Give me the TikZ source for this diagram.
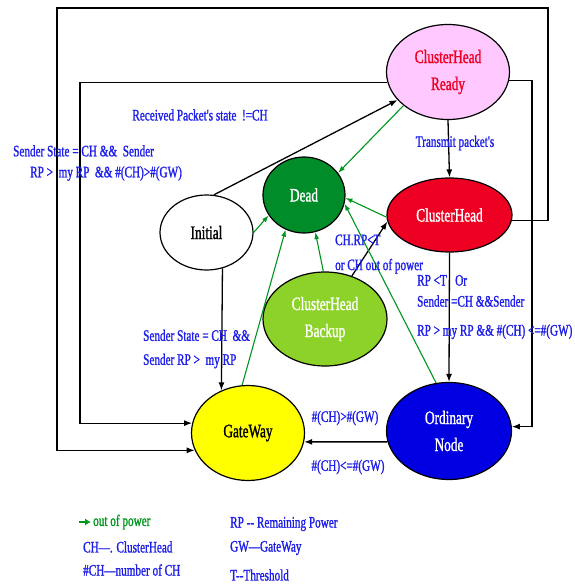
\documentclass[tikz,border=0pt]{standalone}
\usepackage{fontspec}
\setmainfont{Liberation Serif}[FakeStretch=0.7]
\newfontfamily\heavyserif{Liberation Serif}[FakeStretch=0.7,FakeBold=1.2]
\usetikzlibrary{arrows.meta,shapes.geometric}

\definecolor{chready}{RGB}{255,200,255}
\definecolor{chred}{RGB}{238,0,34}
\definecolor{deadgreen}{RGB}{0,140,40}
\definecolor{backupgreen}{RGB}{140,210,40}
\definecolor{gwyellow}{RGB}{255,255,0}
\definecolor{onblue}{RGB}{0,0,225}
\definecolor{lblblue}{RGB}{30,30,235}
\definecolor{powgreen}{RGB}{0,150,30}

\begin{document}
\begin{tikzpicture}[x=1pt, y=-1pt,
        state/.style={ellipse, draw, line width=1.2pt, inner sep=0pt, align=center, font=\heavyserif\fontsize{19}{27}\selectfont},
        lbl/.style={text=lblblue, inner sep=0pt, font=\heavyserif\fontsize{16}{21}\selectfont},
        flow/.style={line width=1.3pt, -{Latex[length=8pt,width=6pt]}},
        pow/.style={draw=powgreen, line width=1.1pt, -{Latex[length=7pt,width=5pt]}}]
        \useasboundingbox (0,0) rectangle (574,584);

        \node[state, fill=chready, text=chred, minimum width=123pt, minimum height=95pt] (chr) at (448,72) {ClusterHead\\Ready};
        \node[state, fill=chred, text=white, minimum width=125pt, minimum height=74pt] (ch) at (449.5,215) {ClusterHead};
        \node[state, fill=deadgreen, text=white, minimum width=82pt, minimum height=76pt] (dead) at (304,195) {Dead};
        \node[state, fill=white, minimum width=93pt, minimum height=75pt] (init) at (206.5,232.5) {Initial};
        \node[state, fill=backupgreen, text=white, minimum width=124pt, minimum height=94pt] (bk) at (325,319) {ClusterHead\\Backup};
        \node[state, fill=gwyellow, minimum width=113pt, minimum height=95pt] (gw) at (248,433) {GateWay};
        \node[state, fill=onblue, text=white, minimum width=125pt, minimum height=97pt] (on) at (449,431) {Ordinary\\Node};

        \coordinate (otr) at (548,8);
        \coordinate (otl) at (57,8);
        \coordinate (itl) at (80,423);
        \coordinate (itr) at (532,427);

        \draw[flow] (init.79) -- (chr.209);
        \draw[flow] (chr.south) -- (ch.north);
        \draw[flow] (ch.south) -- (on.north);
        \draw[flow] (bk.58) -- (ch.186);
        \draw[flow] (init.294) -- (gw.122);
        \draw[flow] (on.190) -- (gw.351);
        \draw[flow] (ch.355) -| (otr) -- (otl) |- (gw.198);
        \draw[flow] (chr.190) -| (itl) |- (gw.170);
        \draw[flow] (chr.352) -| (itr) |- (on.4);

        \draw[pow] (chr.217) -- (dead.33);
        \draw[pow] (ch.182) -- (dead.356);
        \draw[pow] (on.105) -- (dead.348);
        \draw[pow] (init.0) -- (dead.210);
        \draw[pow] (gw.97) -- (dead.242);
        \draw[pow] (bk.92) -- (dead.287);

        \node[lbl] (rcv) at (200,115) {Received Packet's state\ \ !=CH};
        \node[lbl, align=left, anchor=west] (snd) at (13,163) {Sender State = CH \&\&\ \ Sender\\\hspace{17pt}RP >\ \ my RP\ \ \&\& \#(CH)>\#(GW)};
        \node[lbl] (tx) at (455,143) {Transmit packet's};
        \node[lbl, align=left, anchor=west, font=\heavyserif\fontsize{16}{25}\selectfont] (chrp) at (335,254) {CH.RP<T\\or CH out of power};
        \node[lbl, align=left, anchor=west] (rpt) at (417,307) {RP <T\ \ \ Or\\Sender =CH \&\&Sender\\[8pt]RP > my RP \&\& \#(CH) <=\#(GW)};
        \node[lbl, align=left, anchor=west, font=\heavyserif\fontsize{16}{24}\selectfont] (sst) at (143,349) {Sender State = CH\ \ \&\&\\Sender RP >\ \ my RP};
        \node[lbl] (cgt) at (345,418) {\#(CH)>\#(GW)};
        \node[lbl] (cle) at (348,467) {\#(CH)<=\#(GW)};

        \node[lbl, text=powgreen, anchor=west] (pw) at (93,522) {out of power};
        \coordinate (pwa) at (79,522);
        \draw[draw=powgreen, line width=2.2pt, -{Latex[length=6pt,width=7pt]}, shorten >=2pt] (pwa) -- (pw.west);
        \node[lbl, anchor=west] (lch) at (83,547) {CH—. ClusterHead};
        \node[lbl, anchor=west] (lnch) at (83,570) {\#CH—number of CH};
        \node[lbl, anchor=west] (lrp) at (230,524) {RP -{}- Remaining Power};
        \node[lbl, anchor=west] (lgw) at (230,548) {GW—GateWay};
        \node[lbl, anchor=west] (lt) at (230,575) {T-{}-Threshold};
    \end{tikzpicture}
\end{document}
